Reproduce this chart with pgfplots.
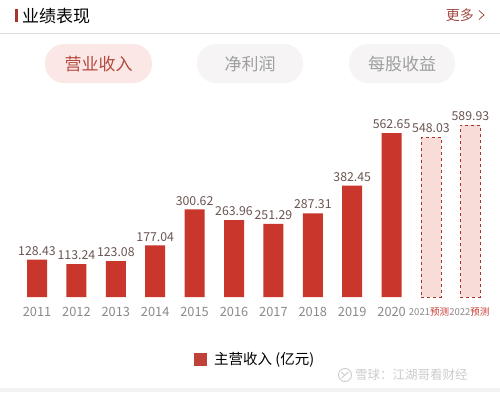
\documentclass[border=0pt]{standalone}
\usepackage{pgfplots}
\pgfplotsset{compat=1.18}
\usepackage{fontspec}
\setmainfont{Noto Sans CJK SC}
\definecolor{barred}{HTML}{C9372C}
\definecolor{fcfill}{HTML}{F8DCD8}
\definecolor{fcedge}{HTML}{A8352C}
\definecolor{lblcol}{HTML}{6A5552}
\definecolor{tickcol}{HTML}{8A8A8A}
\definecolor{pillred}{HTML}{FBE8E6}
\definecolor{pillgray}{HTML}{F6F4F4}
\definecolor{tabred}{HTML}{B5483E}
\definecolor{moreRed}{HTML}{A04A42}
\begin{document}
\begin{tikzpicture}[x=1pt,y=-1pt]
\useasboundingbox (0,0) rectangle (500,392);
\fill[white] (0,0) rectangle (500,392);
% header
\fill[fcedge] (15,9) rectangle (17.5,22);
\node[anchor=west,inner sep=0pt,font=\fontsize{17}{17}\selectfont] at (22,16) {业绩表现};
\node[anchor=east,inner sep=0pt,font=\fontsize{14}{14}\selectfont,text=moreRed] at (474,15) {更多};
\draw[moreRed,line width=0.8pt] (479,10.5) -- (484,15) -- (479,19.5);
\draw[gray!25,line width=0.8pt] (0,33) -- (500,33);
% tabs
\fill[pillred,rounded corners=19pt] (45,44) rectangle (152,83);
\fill[pillgray,rounded corners=19pt] (197,44) rectangle (303,83);
\fill[pillgray,rounded corners=19pt] (349,44) rectangle (455,83);
\node[inner sep=0pt,font=\fontsize{17}{17}\selectfont,text=tabred] at (98.5,64) {营业收入};
\node[inner sep=0pt,font=\fontsize{17}{17}\selectfont,text=gray!75] at (250,64) {净利润};
\node[inner sep=0pt,font=\fontsize{17}{17}\selectfont,text=gray!75] at (402,64) {每股收益};
% legend
\fill[barred!85!gray] (194,353) rectangle (207,366);
\node[anchor=west,inner sep=0pt,font=\fontsize{14.5}{14.5}\selectfont] at (214,359.5) {主营收入 (亿元)};
\draw[gray!40,line width=0.9pt] (345,375) circle (6.5);
\draw[gray!40,line width=0.9pt] (341.5,378) -- (348.5,372) (341.5,372) -- (344,374.5);
\node[anchor=west,inner sep=0pt,font=\fontsize{12.5}{12.5}\selectfont,text=gray!40] at (355,375) {雪球：江湖哥看财经};
\fill[gray!10] (0,388) rectangle (500,392);
\begin{axis}[
  at={(17.3pt,-297pt)}, anchor=south west,
  scale only axis, width=472.8pt, height=174.9pt,
  xmin=-0.5, xmax=11.5, ymin=0, ymax=600,
  axis lines=none, axis line style={draw=none},
  ybar, bar width=20pt,
  clip=false,
  xtick=\empty, ytick=\empty,
  nodes near coords,
  point meta=explicit symbolic,
  every node near coord/.append style={font=\fontsize{12.3}{12.3}\selectfont, text=lblcol, inner sep=1pt, yshift=3pt},
]
\addplot[bar shift=0pt, fill=barred, draw=none] coordinates {
(0,128.43) [128.43]
(1,113.24) [113.24]
(2,123.08) [123.08]
(3,177.04) [177.04]
(4,300.62) [300.62]
(5,263.96) [263.96]
(6,251.29) [251.29]
(7,287.31) [287.31]
(8,382.45) [382.45]
(9,562.65) [562.65]
};
\addplot[bar shift=0pt, fill=fcfill, draw=fcedge, dashed, line width=0.8pt] coordinates {
(10,548.03) [548.03]
(11,589.93) [589.93]
};
\pgfplotsinvokeforeach{0,...,9}{
  \node[font=\fontsize{12.8}{12.8}\selectfont, text=tickcol] at (axis cs:#1,0) [yshift=-15pt] {\pgfmathparse{int(2011+#1)}\pgfmathresult};
}
\node[font=\fontsize{9.5}{9.5}\selectfont, text=tickcol, inner sep=0pt] at (axis cs:10,0) [yshift=-15pt, xshift=-2pt] {2021\textcolor{barred}{预测}};
\node[font=\fontsize{9.5}{9.5}\selectfont, text=tickcol, inner sep=0pt, fill=white] at (axis cs:11,0) [yshift=-15pt, xshift=-1pt] {2022\textcolor{barred}{预测}};
\end{axis}
\end{tikzpicture}
\end{document}
